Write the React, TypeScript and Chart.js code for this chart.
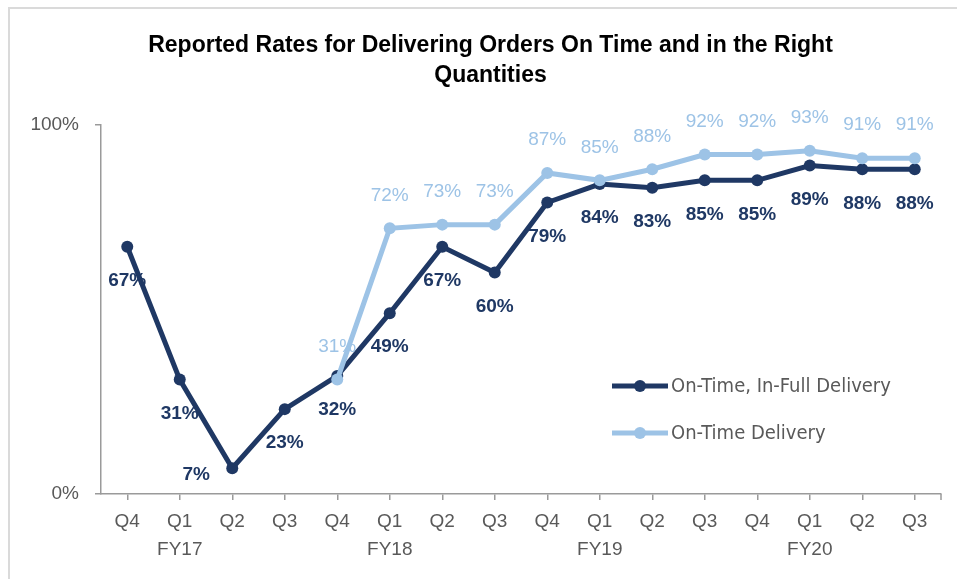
import React, { useEffect, useRef } from "react";
import { Chart, registerables } from "chart.js";

Chart.register(...registerables);

const titleLines = [
  "Reported Rates for Delivering Orders On Time and in the Right",
  "Quantities",
];
const quarters = ["Q4", "Q1", "Q2", "Q3", "Q4", "Q1", "Q2", "Q3", "Q4", "Q1", "Q2", "Q3", "Q4", "Q1", "Q2", "Q3"];
const fiscalYears = ["", "FY17", "", "", "", "FY18", "", "", "", "FY19", "", "", "", "FY20", "", ""];
const onTimeInFull = [67, 31, 7, 23, 32, 49, 67, 60, 79, 84, 83, 85, 85, 89, 88, 88];
const onTimeDelivery = [null, null, null, null, 31, 72, 73, 73, 87, 85, 88, 92, 92, 93, 91, 91];
const seriesNames = ["On-Time, In-Full Delivery", "On-Time Delivery"];

const DARK = "#1F3864";
const LIGHT = "#9DC3E6";
const AXIS = "#9A9A9A";
const TEXT = "#595959";
const FONT = "'Liberation Sans', Arial, sans-serif";
const LEGEND_FONT = "'DejaVu Sans Condensed', 'DejaVu Sans', sans-serif";

const framePlugin = {
  id: "frame",
  beforeDraw(chart: any) {
    const ctx = chart.ctx;
    ctx.save();
    ctx.fillStyle = "#FFFFFF";
    ctx.fillRect(0, 0, chart.width, chart.height);
    ctx.strokeStyle = "#DADADA";
    ctx.lineWidth = 2;
    ctx.beginPath();
    ctx.moveTo(9, chart.height);
    ctx.lineTo(9, 8);
    ctx.lineTo(chart.width, 8);
    ctx.stroke();
    // title
    ctx.fillStyle = "#000000";
    ctx.font = `bold 23px ${FONT}`;
    ctx.textAlign = "center";
    ctx.textBaseline = "middle";
    const cx = chart.width / 2 + 12;
    titleLines.forEach((line, i) => ctx.fillText(line, cx, 46 + i * 30));
    ctx.restore();
  },
  afterDraw(chart: any) {
    const ctx = chart.ctx;
    const area = chart.chartArea;
    ctx.save();
    // end tick at right of x axis
    ctx.strokeStyle = AXIS;
    ctx.lineWidth = 1.5;
    ctx.beginPath();
    ctx.moveTo(area.right, area.bottom);
    ctx.lineTo(area.right, area.bottom + 6);
    ctx.stroke();
    // legend inside plot
    const lx = area.right - 329;
    const rows = [area.bottom - 108, area.bottom - 61];
    chart.data.datasets.forEach((ds: any, i: number) => {
      const y = rows[i];
      ctx.strokeStyle = ds.borderColor;
      ctx.lineWidth = 5;
      ctx.beginPath();
      ctx.moveTo(lx, y);
      ctx.lineTo(lx + 56, y);
      ctx.stroke();
      ctx.fillStyle = ds.borderColor;
      ctx.beginPath();
      ctx.arc(lx + 28, y, 6, 0, Math.PI * 2);
      ctx.fill();
      ctx.fillStyle = TEXT;
      ctx.font = `20px ${LEGEND_FONT}`;
      ctx.textAlign = "left";
      ctx.textBaseline = "middle";
      ctx.fillText(ds.label, lx + 59, y + 1);
    });
    ctx.restore();
  },
};

const pointLabelPlugin = {
  id: "pointLabels",
  afterDatasetsDraw(chart: any) {
    const ctx = chart.ctx;
    ctx.save();
    ctx.textAlign = "center";
    ctx.textBaseline = "middle";
    chart.data.datasets.forEach((ds: any, di: number) => {
      const meta = chart.getDatasetMeta(di);
      meta.data.forEach((pt: any, i: number) => {
        const v = ds.data[i];
        if (v === null || v === undefined) return;
        const side = (ds.labelExceptions && ds.labelExceptions[i]) || ds.labelSide;
        let x = pt.x;
        let y = pt.y;
        if (side === "below") y += 34;
        else if (side === "above") y -= 33;
        else if (side === "left") {
          x -= 36;
          y += 7;
        }
        ctx.font = `${ds.labelBold ? "bold " : ""}19px ${FONT}`;
        ctx.fillStyle = ds.labelColor;
        ctx.fillText(`${v}%`, x, y);
      });
    });
    ctx.restore();
  },
};

export default function App() {
  const canvasRef = useRef<HTMLCanvasElement | null>(null);

  useEffect(() => {
    const canvas = canvasRef.current;
    if (!canvas) return;
    const labels = quarters.map((q, i) => (fiscalYears[i] ? [q, fiscalYears[i]] : q));
    const chart = new Chart(canvas, {
      type: "line",
      data: {
        labels,
        datasets: [
          {
            label: seriesNames[0],
            data: onTimeInFull,
            borderColor: DARK,
            backgroundColor: DARK,
            borderWidth: 5,
            pointRadius: 6,
            pointBackgroundColor: DARK,
            pointBorderWidth: 0,
            tension: 0,
            order: 1,
            labelSide: "below",
            labelExceptions: { 2: "left" },
            labelColor: DARK,
            labelBold: true,
          } as any,
          {
            label: seriesNames[1],
            data: onTimeDelivery,
            borderColor: LIGHT,
            backgroundColor: LIGHT,
            borderWidth: 5,
            pointRadius: 6,
            pointBackgroundColor: LIGHT,
            pointBorderWidth: 0,
            tension: 0,
            order: 0,
            labelSide: "above",
            labelColor: LIGHT,
            labelBold: false,
          } as any,
        ],
      },
      options: {
        responsive: false,
        animation: false,
        layout: { padding: { left: 0, right: 16, top: 125, bottom: 0 } },
        plugins: {
          legend: { display: false },
          title: { display: false },
          tooltip: { enabled: false },
        },
        scales: {
          x: {
            offset: true,
            afterFit: (scale: any) => {
              scale.height = 85;
            },
            grid: {
              display: true,
              offset: false,
              drawOnChartArea: false,
              drawTicks: true,
              tickLength: 6,
              color: AXIS,
              lineWidth: 1.5,
            },
            border: { display: true, color: AXIS, width: 1.5 },
            ticks: {
              autoSkip: false,
              maxRotation: 0,
              padding: 8,
              color: TEXT,
              font: { family: FONT, size: 19, lineHeight: "28px" },
            },
          },
          y: {
            min: 0,
            max: 100,
            afterFit: (scale: any) => {
              scale.width = 101;
            },
            grid: {
              display: true,
              drawOnChartArea: false,
              drawTicks: true,
              tickLength: 6,
              color: AXIS,
              lineWidth: 1.5,
            },
            border: { display: true, color: AXIS, width: 1.5 },
            ticks: {
              stepSize: 100,
              padding: 16,
              color: TEXT,
              font: { family: FONT, size: 19 },
              callback: (v: any) => `${v}%`,
            },
          },
        },
      },
      plugins: [framePlugin, pointLabelPlugin],
    });
    return () => chart.destroy();
  }, []);

  return (
    <div style={{ position: "fixed", left: 0, top: 0, width: 957, height: 579 }}>
      <canvas ref={canvasRef} width={957} height={579} style={{ display: "block" }} />
    </div>
  );
}
